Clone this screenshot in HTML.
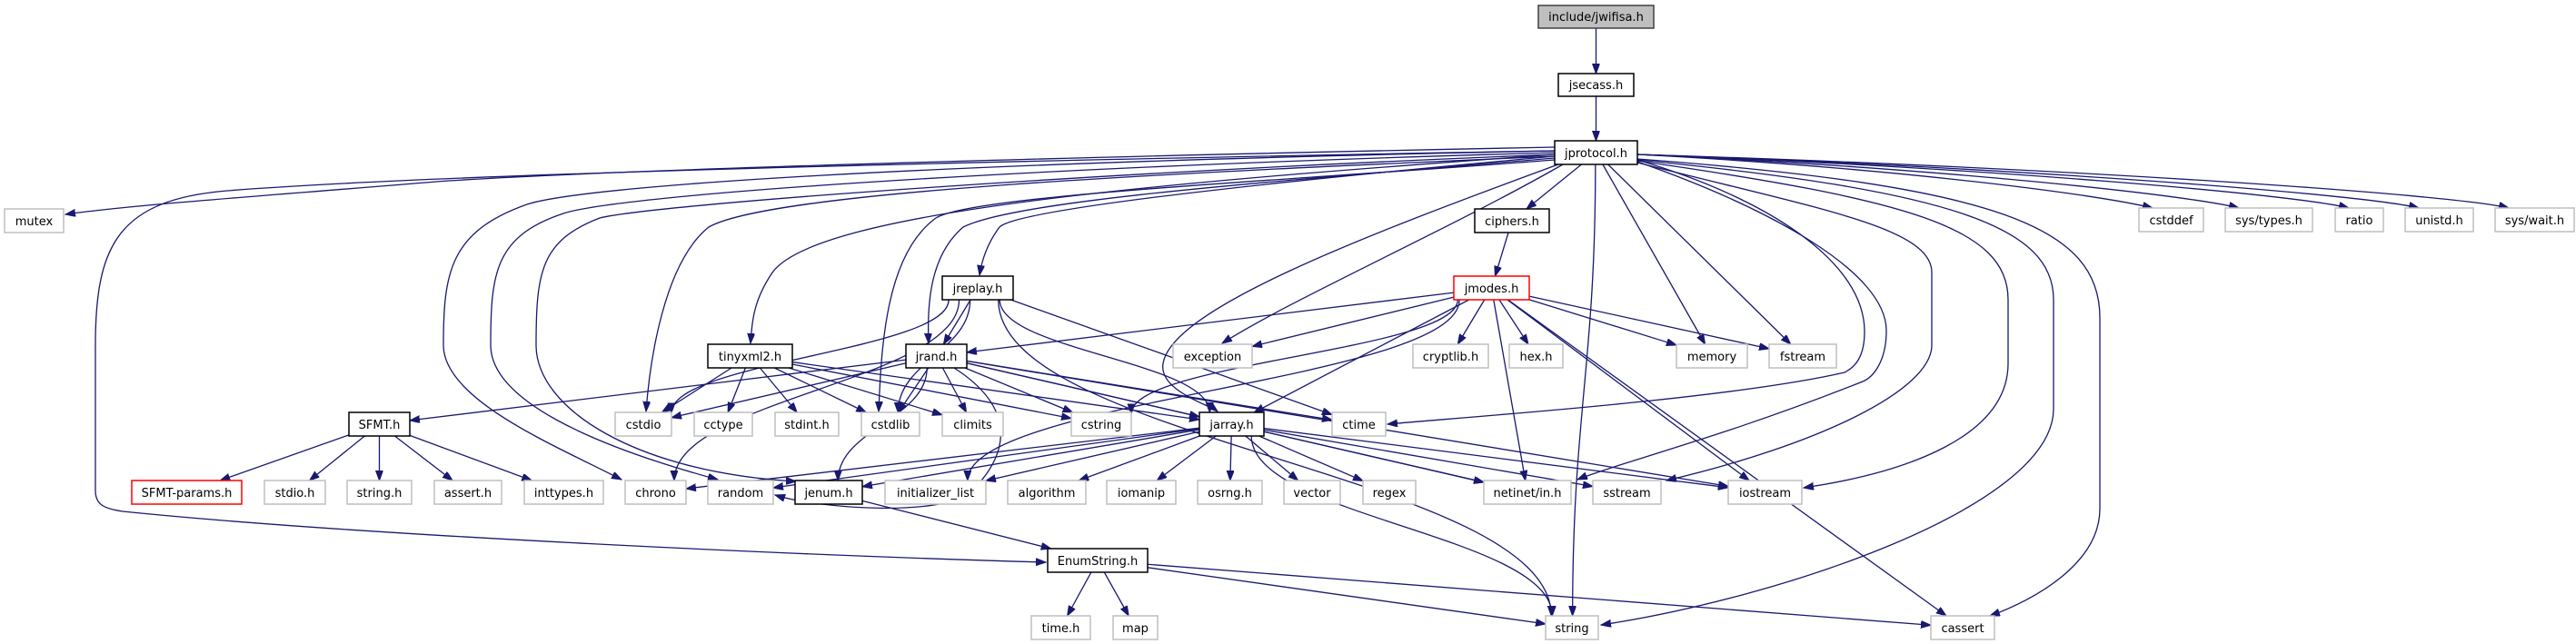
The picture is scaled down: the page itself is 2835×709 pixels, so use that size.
<!DOCTYPE html>
<html><head><meta charset="utf-8"><style>
html,body{margin:0;padding:0;background:#fff;}
svg{display:block;}
text{font-family:"DejaVu Sans","Liberation Sans",sans-serif;font-size:13px;fill:#000;}
</style></head><body>
<svg id="g" width="2835" height="709" viewBox="0 0 2835 709" xmlns="http://www.w3.org/2000/svg">
<defs><marker id="a" markerUnits="userSpaceOnUse" markerWidth="12" markerHeight="9" refX="11" refY="4" orient="auto"><path d="M0,0 L11,4 L0,8 z" fill="#191970" stroke="#191970"/></marker></defs>
<g id="edges" fill="none" stroke="#191970" stroke-width="1.3"></g>
<g id="nodes">
<rect x="1693" y="6" width="127" height="25" fill="#bfbfbf" stroke="#404040" stroke-width="1.5"/><text x="1756.5" y="23" text-anchor="middle">include/jwifisa.h</text>
<rect x="1715" y="81" width="83" height="25" fill="#fff" stroke="#000" stroke-width="1.5"/><text x="1756.5" y="98" text-anchor="middle">jsecass.h</text>
<rect x="1711" y="155" width="91" height="26" fill="#fff" stroke="#000" stroke-width="1.5"/><text x="1756.5" y="173" text-anchor="middle">jprotocol.h</text>
<rect x="5" y="230" width="65" height="26" fill="#fff" stroke="#bfbfbf" stroke-width="1.5"/><text x="37.5" y="248" text-anchor="middle">mutex</text>
<rect x="2354" y="229" width="71" height="26" fill="#fff" stroke="#bfbfbf" stroke-width="1.5"/><text x="2389.5" y="247" text-anchor="middle">cstddef</text>
<rect x="2449" y="229" width="96" height="26" fill="#fff" stroke="#bfbfbf" stroke-width="1.5"/><text x="2497" y="247" text-anchor="middle">sys/types.h</text>
<rect x="2570" y="229" width="53" height="26" fill="#fff" stroke="#bfbfbf" stroke-width="1.5"/><text x="2596.5" y="247" text-anchor="middle">ratio</text>
<rect x="2647" y="229" width="75" height="26" fill="#fff" stroke="#bfbfbf" stroke-width="1.5"/><text x="2684.5" y="247" text-anchor="middle">unistd.h</text>
<rect x="2746" y="229" width="87" height="26" fill="#fff" stroke="#bfbfbf" stroke-width="1.5"/><text x="2789.5" y="247" text-anchor="middle">sys/wait.h</text>
<rect x="1623" y="230" width="82" height="26" fill="#fff" stroke="#000" stroke-width="1.5"/><text x="1664" y="248" text-anchor="middle">ciphers.h</text>
<rect x="1037" y="304" width="78" height="26" fill="#fff" stroke="#000" stroke-width="1.5"/><text x="1076" y="322" text-anchor="middle">jreplay.h</text>
<rect x="1600" y="304" width="83" height="26" fill="#fff" stroke="#ff0000" stroke-width="1.5"/><text x="1641.5" y="322" text-anchor="middle">jmodes.h</text>
<rect x="779" y="379" width="93" height="26" fill="#fff" stroke="#000" stroke-width="1.5"/><text x="825.5" y="397" text-anchor="middle">tinyxml2.h</text>
<rect x="997" y="379" width="67" height="26" fill="#fff" stroke="#000" stroke-width="1.5"/><text x="1030.5" y="397" text-anchor="middle">jrand.h</text>
<rect x="1291" y="379" width="87" height="26" fill="#fff" stroke="#bfbfbf" stroke-width="1.5"/><text x="1334.5" y="397" text-anchor="middle">exception</text>
<rect x="1555" y="379" width="83" height="26" fill="#fff" stroke="#bfbfbf" stroke-width="1.5"/><text x="1596.5" y="397" text-anchor="middle">cryptlib.h</text>
<rect x="1661" y="379" width="59" height="26" fill="#fff" stroke="#bfbfbf" stroke-width="1.5"/><text x="1690.5" y="397" text-anchor="middle">hex.h</text>
<rect x="1845" y="379" width="78" height="26" fill="#fff" stroke="#bfbfbf" stroke-width="1.5"/><text x="1884" y="397" text-anchor="middle">memory</text>
<rect x="1947" y="379" width="74" height="26" fill="#fff" stroke="#bfbfbf" stroke-width="1.5"/><text x="1984" y="397" text-anchor="middle">fstream</text>
<rect x="384" y="454" width="67" height="26" fill="#fff" stroke="#000" stroke-width="1.5"/><text x="417.5" y="472" text-anchor="middle">SFMT.h</text>
<rect x="677" y="454" width="62" height="26" fill="#fff" stroke="#bfbfbf" stroke-width="1.5"/><text x="708" y="472" text-anchor="middle">cstdio</text>
<rect x="764" y="454" width="64" height="26" fill="#fff" stroke="#bfbfbf" stroke-width="1.5"/><text x="796" y="472" text-anchor="middle">cctype</text>
<rect x="853" y="454" width="70" height="26" fill="#fff" stroke="#bfbfbf" stroke-width="1.5"/><text x="888" y="472" text-anchor="middle">stdint.h</text>
<rect x="948" y="454" width="64" height="26" fill="#fff" stroke="#bfbfbf" stroke-width="1.5"/><text x="980" y="472" text-anchor="middle">cstdlib</text>
<rect x="1037" y="454" width="67" height="26" fill="#fff" stroke="#bfbfbf" stroke-width="1.5"/><text x="1070.5" y="472" text-anchor="middle">climits</text>
<rect x="1179" y="454" width="66" height="26" fill="#fff" stroke="#bfbfbf" stroke-width="1.5"/><text x="1212" y="472" text-anchor="middle">cstring</text>
<rect x="1320" y="454" width="71" height="26" fill="#fff" stroke="#000" stroke-width="1.5"/><text x="1355.5" y="472" text-anchor="middle">jarray.h</text>
<rect x="1466" y="454" width="59" height="26" fill="#fff" stroke="#bfbfbf" stroke-width="1.5"/><text x="1495.5" y="472" text-anchor="middle">ctime</text>
<rect x="145" y="529" width="121" height="26" fill="#fff" stroke="#ff0000" stroke-width="1.5"/><text x="205.5" y="547" text-anchor="middle">SFMT-params.h</text>
<rect x="291" y="529" width="67" height="26" fill="#fff" stroke="#bfbfbf" stroke-width="1.5"/><text x="324.5" y="547" text-anchor="middle">stdio.h</text>
<rect x="382" y="529" width="71" height="26" fill="#fff" stroke="#bfbfbf" stroke-width="1.5"/><text x="417.5" y="547" text-anchor="middle">string.h</text>
<rect x="478" y="529" width="74" height="26" fill="#fff" stroke="#bfbfbf" stroke-width="1.5"/><text x="515" y="547" text-anchor="middle">assert.h</text>
<rect x="577" y="529" width="87" height="26" fill="#fff" stroke="#bfbfbf" stroke-width="1.5"/><text x="620.5" y="547" text-anchor="middle">inttypes.h</text>
<rect x="688" y="529" width="67" height="26" fill="#fff" stroke="#bfbfbf" stroke-width="1.5"/><text x="721.5" y="547" text-anchor="middle">chrono</text>
<rect x="779" y="529" width="72" height="26" fill="#fff" stroke="#bfbfbf" stroke-width="1.5"/><text x="815" y="547" text-anchor="middle">random</text>
<rect x="875" y="529" width="74" height="26" fill="#fff" stroke="#000" stroke-width="1.5"/><text x="912" y="547" text-anchor="middle">jenum.h</text>
<rect x="974" y="529" width="111" height="26" fill="#fff" stroke="#bfbfbf" stroke-width="1.5"/><text x="1029.5" y="547" text-anchor="middle">initializer_list</text>
<rect x="1109" y="529" width="86" height="26" fill="#fff" stroke="#bfbfbf" stroke-width="1.5"/><text x="1152" y="547" text-anchor="middle">algorithm</text>
<rect x="1218" y="529" width="76" height="26" fill="#fff" stroke="#bfbfbf" stroke-width="1.5"/><text x="1256" y="547" text-anchor="middle">iomanip</text>
<rect x="1318" y="529" width="71" height="26" fill="#fff" stroke="#bfbfbf" stroke-width="1.5"/><text x="1353.5" y="547" text-anchor="middle">osrng.h</text>
<rect x="1413" y="529" width="62" height="26" fill="#fff" stroke="#bfbfbf" stroke-width="1.5"/><text x="1444" y="547" text-anchor="middle">vector</text>
<rect x="1500" y="529" width="58" height="26" fill="#fff" stroke="#bfbfbf" stroke-width="1.5"/><text x="1529" y="547" text-anchor="middle">regex</text>
<rect x="1633" y="529" width="96" height="26" fill="#fff" stroke="#bfbfbf" stroke-width="1.5"/><text x="1681" y="547" text-anchor="middle">netinet/in.h</text>
<rect x="1753" y="529" width="75" height="26" fill="#fff" stroke="#bfbfbf" stroke-width="1.5"/><text x="1790.5" y="547" text-anchor="middle">sstream</text>
<rect x="1902" y="529" width="81" height="26" fill="#fff" stroke="#bfbfbf" stroke-width="1.5"/><text x="1942.5" y="547" text-anchor="middle">iostream</text>
<rect x="1153" y="604" width="110" height="26" fill="#fff" stroke="#000" stroke-width="1.5"/><text x="1208" y="622" text-anchor="middle">EnumString.h</text>
<rect x="1135" y="678" width="65" height="26" fill="#fff" stroke="#bfbfbf" stroke-width="1.5"/><text x="1167.5" y="696" text-anchor="middle">time.h</text>
<rect x="1225" y="678" width="49" height="26" fill="#fff" stroke="#bfbfbf" stroke-width="1.5"/><text x="1249.5" y="696" text-anchor="middle">map</text>
<rect x="1701" y="678" width="58" height="26" fill="#fff" stroke="#bfbfbf" stroke-width="1.5"/><text x="1730" y="696" text-anchor="middle">string</text>
<rect x="2125" y="678" width="70" height="26" fill="#fff" stroke="#bfbfbf" stroke-width="1.5"/><text x="2160" y="696" text-anchor="middle">cassert</text>
</g>
</svg>
<script>
var N={root:[1693,6,1820,31],jsecass:[1715,81,1798,106],jprotocol:[1711,155,1802,181],mutex:[5,230,70,256],
cstddef:[2354,229,2425,255],systypes:[2449,229,2545,255],ratio:[2570,229,2623,255],unistd:[2647,229,2722,255],syswait:[2746,229,2833,255],
ciphers:[1623,230,1705,256],jreplay:[1037,304,1115,330],jmodes:[1600,304,1683,330],tinyxml2:[779,379,872,405],jrand:[997,379,1064,405],
exception:[1291,379,1378,405],cryptlib:[1555,379,1638,405],hex:[1661,379,1720,405],memory:[1845,379,1923,405],fstream:[1947,379,2021,405],
SFMT:[384,454,451,480],cstdio:[677,454,739,480],cctype:[764,454,828,480],stdint:[853,454,923,480],cstdlib:[948,454,1012,480],climits:[1037,454,1104,480],
cstring:[1179,454,1245,480],jarray:[1320,454,1391,480],ctime:[1466,454,1525,480],SFMTp:[145,529,266,555],stdio:[291,529,358,555],stringh:[382,529,453,555],
asserth:[478,529,552,555],inttypes:[577,529,664,555],chrono:[688,529,755,555],random:[779,529,851,555],jenum:[875,529,949,555],init:[974,529,1085,555],
algorithm:[1109,529,1195,555],iomanip:[1218,529,1294,555],osrng:[1318,529,1389,555],vector:[1413,529,1475,555],regex:[1500,529,1558,555],
netinet:[1633,529,1729,555],sstream:[1753,529,1828,555],iostream:[1902,529,1983,555],EnumString:[1153,604,1263,630],timeh:[1135,678,1200,704],
map:[1225,678,1274,704],string:[1701,678,1759,704],cassert:[2125,678,2195,704]};
function c(n){var b=N[n];return[(b[0]+b[2])/2,(b[1]+b[3])/2];}
function hit(n,tx,ty){var b=N[n],p=c(n),dx=tx-p[0],dy=ty-p[1],hw=(b[2]-b[0])/2,hh=(b[3]-b[1])/2;
var s=Math.min(Math.abs(dx)>0?hw/Math.abs(dx):1e9,Math.abs(dy)>0?hh/Math.abs(dy):1e9);return[p[0]+dx*s,p[1]+dy*s];}
var out=[];
function S(a,b){var pa=c(a),pb=c(b);var s=hit(a,pb[0],pb[1]),e=hit(b,pa[0],pa[1]);out.push('M'+s+' L'+e);}
function C(a,b){var pa=c(a),pb=c(b);var s=hit(a,pb[0],pb[1]),e=hit(b,pa[0],pa[1]);var dy=e[1]-s[1];
out.push('M'+s+' C'+s[0]+','+(s[1]+dy*0.45)+' '+e[0]+','+(e[1]-dy*0.45)+' '+e);}
function P(d){out.push(d);}
S('root','jsecass');S('jsecass','jprotocol');S('jprotocol','ciphers');S('ciphers','jmodes');
S('jprotocol','memory');S('jprotocol','fstream');
P('M1711,162 C1300,170 700,185 480,200 C300,215 150,225 72,236');
P('M1711,166 C1200,175 500,190 250,210 C130,220 105,270 105,380 L105,540 C105,556 115,560 135,563 C400,590 900,612 1151,619');
P('M1711,166 C1000,180 640,205 580,225 C495,255 488,300 488,380 C488,440 610,490 684,528');
P('M1711,168 C1100,185 680,215 620,235 C545,260 540,300 540,380 C540,440 650,490 790,528');
P('M1711,170 C1200,190 720,225 660,240 C595,265 590,300 590,380 C590,450 700,520 876,530');
P('M1711,170 C1300,200 900,230 850,300 C830,330 828,350 826,378');
P('M1711,172 C1300,190 850,210 780,250 C730,290 715,400 711,453');
P('M1711,172 C1400,200 1120,230 1100,250 C1085,270 1080,290 1078,303');
P('M1711,174 C1400,200 1120,220 1060,250 C1025,280 1020,330 1022,378');
P('M1711,176 C1400,200 1070,215 1030,240 C975,280 970,380 967,453');
P('M1720,181 C1600,250 1420,330 1345,378');
P('M1715,181 C1500,260 1290,340 1280,400 C1275,430 1330,445 1340,453');
P('M1802,176 C1950,220 2052,290 2052,365 C2052,395 2040,405 2030,410 C1900,440 1600,460 1527,467');
P('M1802,178 C1950,230 2076,300 2076,364 C2076,400 2060,416 2050,420 C1900,480 1780,510 1736,528');
P('M1802,179 C2000,230 2126,250 2126,300 L2126,380 C2126,430 2000,490 1834,529');
P('M1802,177 C2100,220 2210,250 2210,330 L2210,400 C2210,480 2100,520 1985,537');
P('M1802,176 C2150,210 2260,250 2260,330 L2260,450 C2260,560 1950,660 1762,688');
P('M1802,175 C2200,205 2311,250 2311,350 L2311,560 C2311,620 2240,660 2190,678');
C('jprotocol','string');
['cstddef','systypes','ratio','unistd','syswait'].forEach(function(t){var b=N[t];var tx=b[0]+15,ty=b[1];
out.push('M1802,170 C'+(1802+(tx-1802)*0.5)+',185 '+(tx-60)+','+(ty-15)+' '+tx+','+ty);});
// jmodes
S('jmodes','jrand');S('jmodes','exception');C('jmodes','cstring');S('jmodes','jarray');S('jmodes','cryptlib');S('jmodes','hex');
S('jmodes','memory');S('jmodes','fstream');S('jmodes','iostream');S('jmodes','cassert');C('jmodes','init');S('jmodes','netinet');
// jreplay
S('jreplay','jrand');C('jreplay','cstdio');C('jreplay','cstdlib');C('jreplay','jarray');S('jreplay','ctime');C('jreplay','string');C('jreplay','chrono');
// jrand
S('jrand','SFMT');S('jrand','cstdio');S('jrand','cstdlib');S('jrand','climits');S('jrand','cstring');S('jrand','jarray');S('jrand','ctime');
P('M1050,405 C1120,450 1110,500 1070,540 C1040,570 900,560 853,545');C('jrand','jenum');S('jrand','netinet');S('jrand','iostream');
// tinyxml2
S('tinyxml2','cstdio');S('tinyxml2','cctype');S('tinyxml2','stdint');S('tinyxml2','cstdlib');S('tinyxml2','climits');S('tinyxml2','cstring');S('tinyxml2','jarray');
// SFMT
S('SFMT','SFMTp');S('SFMT','stdio');S('SFMT','stringh');S('SFMT','asserth');S('SFMT','inttypes');
// jarray
S('jarray','init');S('jarray','algorithm');S('jarray','iomanip');S('jarray','osrng');S('jarray','vector');S('jarray','regex');
S('jarray','netinet');S('jarray','sstream');S('jarray','iostream');C('jarray','string');S('jarray','jenum');S('jarray','random');S('jarray','chrono');
S('jenum','EnumString');S('EnumString','timeh');S('EnumString','map');S('EnumString','string');S('EnumString','cassert');
var g=document.getElementById('edges'),h='';
out.forEach(function(d){h+='<path d="'+d+'" marker-end="url(#a)"/>';});
g.innerHTML=h;
</script>
</body></html>
